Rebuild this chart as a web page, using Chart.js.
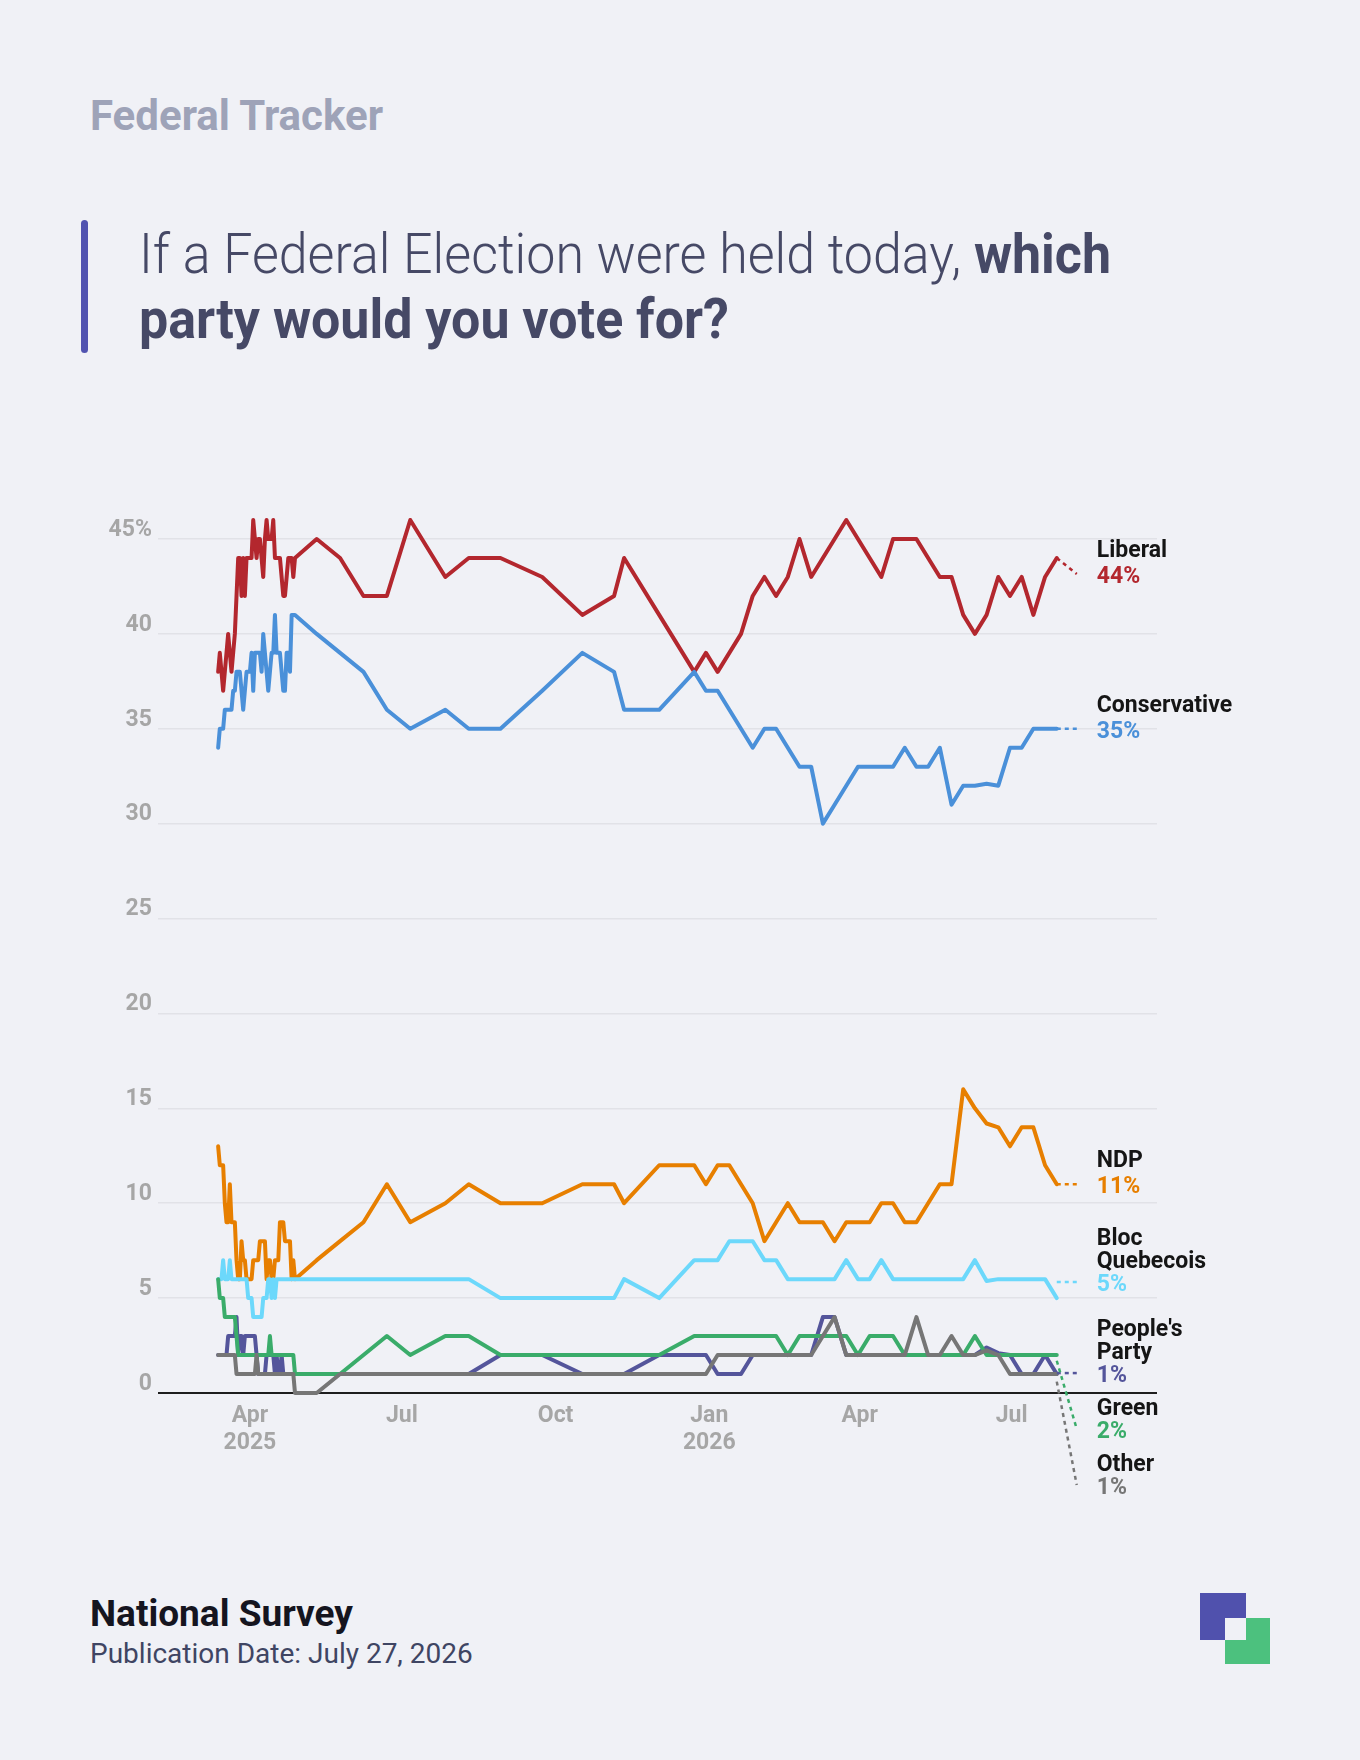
<!DOCTYPE html>
<html>
<head>
<meta charset="utf-8">
<title>Federal Tracker</title>
<script src="https://cdn.jsdelivr.net/npm/chart.js@4.4.1/dist/chart.umd.min.js"></script>
<style>
  body { margin: 0; width: 1360px; height: 1760px; background: #f0f1f6; font-family: Roboto, sans-serif; position: relative; overflow: hidden; }
  .kicker { position: absolute; left: 90px; top: 95px; font-size: 42px; line-height: 42px; font-weight: 700; color: #9ea3b8; }
  .bar { position: absolute; left: 81px; top: 220px; width: 7px; height: 133px; border-radius: 4px; background: #5153b0; }
  .title { position: absolute; left: 139px; top: 222px; font-size: 55px; line-height: 65px; font-weight: 300; color: #464966; white-space: nowrap; transform-origin: 0 0; }
  .title b { font-weight: 700; }
  #wrap { position: absolute; left: 0; top: 460px; width: 1360px; height: 1100px; }
  .foot1 { position: absolute; left: 90px; top: 1595px; font-size: 37px; line-height: 37px; font-weight: 700; color: #15151f; }
  .foot2 { position: absolute; left: 90px; top: 1640px; font-size: 28px; line-height: 28px; font-weight: 400; color: #3f4563; }
  .logo div { position: absolute; }
</style>
</head>
<body>
<div class="kicker">Federal Tracker</div>
<div class="bar"></div>
<div class="title" id="title">If a Federal Election were held today, <b>which</b><br><b>party would you vote for?</b></div>
<div id="wrap"><canvas id="chart"></canvas></div>
<div class="foot1">National Survey</div>
<div class="foot2">Publication Date: July 27, 2026</div>
<div class="logo">
  <div style="left:1200px;top:1593px;width:46px;height:47px;background:#5051ad"></div>
  <div style="left:1225px;top:1618px;width:45px;height:46px;background:#4cc17e"></div>
  <div style="left:1225px;top:1618px;width:21px;height:22px;background:#f0f1f6"></div>
</div>
<script>
// daily tracking during the 2025 campaign
const campaignDates = [
  '2025-03-13','2025-03-14','2025-03-15','2025-03-16','2025-03-17','2025-03-18','2025-03-19','2025-03-20','2025-03-21','2025-03-22',
  '2025-03-23','2025-03-24','2025-03-25','2025-03-26','2025-03-27','2025-03-28','2025-03-29','2025-03-30','2025-03-31','2025-04-01',
  '2025-04-02','2025-04-03','2025-04-04','2025-04-05','2025-04-06','2025-04-07','2025-04-08','2025-04-09','2025-04-10','2025-04-11',
  '2025-04-12','2025-04-13','2025-04-14','2025-04-15','2025-04-16','2025-04-17','2025-04-18','2025-04-19','2025-04-20','2025-04-21',
  '2025-04-22','2025-04-23','2025-04-24','2025-04-25','2025-04-26','2025-04-27','2025-04-28'
];
// regular polls after the election
const trackerDates = [
  '2025-05-11','2025-05-25','2025-06-08','2025-06-22','2025-07-06','2025-07-27','2025-08-10','2025-08-29','2025-09-23','2025-10-17',
  '2025-11-05','2025-11-11','2025-12-02','2025-12-23','2025-12-30','2026-01-06','2026-01-13','2026-01-20','2026-01-27','2026-02-03',
  '2026-02-10','2026-02-17','2026-02-24','2026-03-03','2026-03-10','2026-03-17','2026-03-24','2026-03-31','2026-04-07','2026-04-14',
  '2026-04-21','2026-04-28','2026-05-05','2026-05-12','2026-05-19','2026-05-26','2026-06-02','2026-06-09','2026-06-16','2026-06-23',
  '2026-06-30','2026-07-07','2026-07-14','2026-07-21','2026-07-28'
];

const liberalCampaign = [38,39,38,37,38,39,40,39,38,39, 40,42,44,44,42,44,42,44,44,44, 44,46,45,44,45,45,44,43,45,46, 45,45,45,46,44,44,44,44,43,42, 42,43,44,44,44,43,44];
const liberalTracker = [45,44,42,42,46,43,44,44,43,41, 42,44,41,38,39,38,39,40,42,43, 42,43,45,43,44,45,46,45,44,43, 45,45,45,44,43,43,41,40,41,43, 42,43,41,43,44];

const conservativeCampaign = [34,35,35,35,36,36,36,36,36,37, 37,38,38,38,37,36,37,38,38,38, 39,37,39,39,39,39,38,40,39,38, 37,38,39,39,41,39,39,39,38,37, 37,39,39,38,41,41,41];
const conservativeTracker = [40,39,38,36,35,36,35,35,37,39, 38,36,36,38,37,37,36,35,34,35, 35,34,33,33,30,31,32,33,33,33, 33,34,33,33,34,31,32,32,32.1,32, 34,34,35,35,35];

const ndpCampaign = [13,12,12,12,10,9,9,11,9,9, 9,7,6,6,8,7,7,6,6,6, 6,7,7,7,7,8,8,8,8,6, 7,7,6,6,7,7,7,9,9,9, 8,8,8,8,6,7,6];
const ndpTracker = [7,8,9,11,9,10,11,10,10,11, 11,10,12,12,11,12,12,11,10,8, 9,10,9,9,9,8,9,9,9,10, 10,9,9,10,11,11,16,15,14.2,14, 13,14,14,12,11];

const blocCampaign = [6,6,6,7,6,6,6,7,6,6, 6,6,6,6,6,6,6,6,5,5, 5,4,4,4,4,4,4,5,5,5, 6,6,5,6,5,6,6,6,6,6, 6,6,6,6,6,6,6];
const blocTracker = [6,6,6,6,6,6,6,5,5,5, 5,6,5,7,7,7,8,8,8,7, 7,6,6,6,6,6,7,6,6,7, 6,6,6,6,6,6,6,7,5.9,6, 6,6,6,6,5];

const ppcCampaign = [2,2,2,2,2,2,3,3,3,3, 3,4,2,3,3,2,3,3,3,3, 3,3,3,2,1,1,1,1,1,2, 2,2,2,2,1,2,1,1,2,1, 1,1,1,1,1,1,1];
const ppcTracker = [1,1,1,1,1,1,1,2,2,1, 1,1,2,2,2,1,1,1,2,2, 2,2,2,2,4,4,2,2,2,2, 2,2,2,2,2,2,2,2,2.4,2.1, 2,1,1,2,1];

const greenCampaign = [6,5,5,5,4,4,4,4,4,4, 4,3,2,2,2,2,2,2,2,2, 2,2,2,2,2,2,2,2,2,2, 2,3,2,2,2,2,2,2,2,2, 2,2,2,2,2,2,1];
const greenTracker = [1,1,2,3,2,3,3,2,2,2, 2,2,2,3,3,3,3,3,3,3, 3,2,3,3,3,3,3,2,3,3, 3,2,2,2,2,2,2,3,2,2, 2,2,2,2,2];

const otherCampaign = [2,2,2,2,2,2,2,2,2,2, 2,1,1,1,1,1,1,1,1,1, 1,1,1,2,1,1,1,1,1,1, 1,1,1,1,1,1,1,1,1,1, 1,1,1,1,1,1,0];
const otherTracker = [0,1,1,1,1,1,1,1,1,1, 1,1,1,1,1,2,2,2,2,2, 2,2,2,2,3,4,2,2,2,2, 2,2,4,2,2,3,2,2,2.25,2, 1,1,1,1,1];

const partyNames = [['Liberal'], ['Conservative'], ['NDP'], ['Bloc', 'Quebecois'], ["People's", 'Party'], ['Green'], ['Other']];
const partyColors = ['#b3272e', '#4a90d9', '#e77f00', '#6cd8fb', '#54559b', '#3aac6a', '#767676'];
// end of the smoothed trend the dashed leader lines start from
const labelFrom = [44, 35, 11, 5.85, 1.05, 1.7, 0.6];

const tickDates = ['2025-04-01', '2025-07-01', '2025-10-01', '2026-01-01', '2026-04-01', '2026-07-01'];
const tickLabels = [['Apr', '2025'], 'Jul', 'Oct', ['Jan', '2026'], 'Apr', 'Jul'];
const axisStart = '2025-02-05';
const axisEnd = '2026-09-26';

const day = s => (Date.parse(s) - Date.parse('2025-04-01')) / 864e5;
const dates = campaignDates.concat(trackerDates);
const series = [
  liberalCampaign.concat(liberalTracker),
  conservativeCampaign.concat(conservativeTracker),
  ndpCampaign.concat(ndpTracker),
  blocCampaign.concat(blocTracker),
  ppcCampaign.concat(ppcTracker),
  greenCampaign.concat(greenTracker),
  otherCampaign.concat(otherTracker)
];

// title is set in a narrow face in the original, squeeze Roboto to the same width
const title = document.getElementById('title');
const w = title.getBoundingClientRect().width;
title.style.transform = `scaleX(${972 / w})`;

// leading of the end labels: the crowded bottom group is set tighter
const labelLeading = [26, 26, 26, 23, 23, 23, 23];

const endLabels = {
  id: 'endLabels',
  afterDatasetsDraw(chart) {
    const { ctx, chartArea, scales: { x, y } } = chart;
    const GAP = 15, HALF = 9, NUDGE = 3;
    let prevBottom = -Infinity;
    chart.data.datasets.forEach((ds, i) => {
      const last = ds.data[ds.data.length - 1];
      const x0 = x.getPixelForValue(last.x);
      const y0 = y.getPixelForValue(labelFrom[i]);
      const lines = partyNames[i];
      const lead = labelLeading[i];
      const above = lines.length * lead + HALF;
      let p = y0;
      if (p - above < chartArea.top) p = chartArea.top + above;
      if (p - above < prevBottom + GAP) p = prevBottom + GAP + above;
      prevBottom = p + HALF;

      ctx.save();
      ctx.setLineDash([4, 4]);
      ctx.lineWidth = 2.5;
      ctx.strokeStyle = ds.borderColor;
      ctx.beginPath();
      ctx.moveTo(x0, y0);
      ctx.lineTo(x0 + 20, p);
      ctx.stroke();
      ctx.setLineDash([]);

      ctx.font = 'bold 23px Roboto';
      ctx.textAlign = 'left';
      ctx.textBaseline = 'middle';
      ctx.fillStyle = '#151515';
      lines.forEach((t, j) => ctx.fillText(t, x0 + 40, p + NUDGE - (lines.length - j) * lead));
      ctx.fillStyle = ds.borderColor;
      ctx.fillText(Math.round(last.y) + '%', x0 + 40, p + NUDGE);
      ctx.restore();
    });
  }
};

Chart.defaults.font.family = 'Roboto';

new Chart(document.getElementById('chart'), {
  type: 'line',
  data: {
    datasets: series.map((vals, i) => ({
      label: partyNames[i].join(' '),
      data: vals.map((v, k) => ({ x: day(dates[k]), y: v })),
      borderColor: partyColors[i],
      borderWidth: 4,
      pointRadius: 0,
      tension: 0,
      clip: false,
      borderJoinStyle: 'round',
      borderCapStyle: 'round',
      order: series.length - i
    }))
  },
  options: {
    responsive: true,
    maintainAspectRatio: false,
    animation: false,
    devicePixelRatio: 1,
    layout: { padding: { top: 79, right: 203, bottom: 97, left: 0 } },
    plugins: { legend: { display: false }, tooltip: { enabled: false } },
    scales: {
      x: {
        type: 'linear',
        min: day(axisStart),
        max: day(axisEnd),
        grid: { display: false },
        border: { display: false },
        afterBuildTicks: s => { s.ticks = tickDates.map(d => ({ value: day(d) })); },
        afterFit: s => { s.height = 70; },
        ticks: {
          autoSkip: false,
          maxRotation: 0,
          padding: 1,
          color: '#a6a6a6',
          font: { size: 23, weight: 'bold' },
          callback: (v, idx) => tickLabels[idx]
        }
      },
      y: {
        min: 0,
        max: 45,
        border: { display: false },
        afterFit: s => { s.width = 158; },
        grid: {
          drawTicks: false,
          color: c => c.tick.value === 0 ? '#1e1e1e' : '#e1e2e7',
          lineWidth: c => c.tick.value === 0 ? 2 : 1.5
        },
        ticks: {
          stepSize: 5,
          padding: 6,
          labelOffset: -9,
          color: '#a6a6a6',
          font: { size: 23, weight: 'bold' },
          callback: v => v === 45 ? '45%' : v
        }
      }
    }
  },
  plugins: [endLabels]
});
</script>
</body>
</html>
